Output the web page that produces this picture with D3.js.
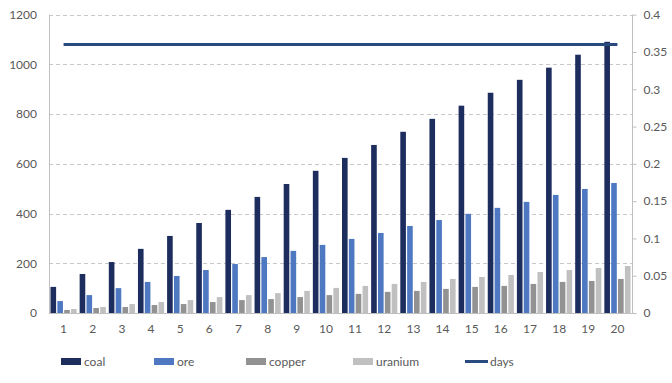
<!DOCTYPE html>
<html><head><meta charset="utf-8">
<script src="https://cdn.jsdelivr.net/npm/d3@7/dist/d3.min.js"></script>
<style>
html,body{margin:0;padding:0;background:#fff;}
svg{display:block;font-family:Lato,"Open Sans",sans-serif;}
</style></head>
<body>
<script>
const categories = ["1","2","3","4","5","6","7","8","9","10","11","12","13","14","15","16","17","18","19","20"];
const coal    = [105,157,205,258,310,362,415,467,519,572,624,676,729,781,834,886,938,987,1039,1091];
const ore     = [48,72,100,125,149,173,197,225,250,274,298,322,350,374,399,423,447,475,499,523];
const copper  = [12,20,24,32,36,44,52,56,64,72,77,85,89,97,105,109,117,125,129,137];
const uranium = [16,24,36,44,52,64,72,80,89,101,109,117,125,137,145,153,165,173,181,189];
const days    = [0.36,0.36,0.36,0.36,0.36,0.36,0.36,0.36,0.36,0.36,0.36,0.36,0.36,0.36,0.36,0.36,0.36,0.36,0.36,0.36];
const leftTicks = [0,200,400,600,800,1000,1200];
const rightTicks = [0,0.05,0.1,0.15,0.2,0.25,0.3,0.35,0.4];

const seriesNames = ["coal","ore","copper","uranium"];
const seriesData = [coal, ore, copper, uranium];
const colors = {coal:"#1c2d5e", ore:"#4e78c1", copper:"#929292", uranium:"#c0c0c0", days:"#284a7e"};

const W = 672, H = 383;
const L = 49, R = 632, T = 14.7, B = 313;
const svg = d3.select("body").append("svg").attr("width", W).attr("height", H);

const x0 = d3.scaleBand().domain(categories).range([L, R]).padding(0);
const x1 = d3.scaleBand().domain(seriesNames).range([1.5, x0.bandwidth() - 1.5]).paddingInner(0.18);
const y = d3.scaleLinear().domain([0, 1200]).range([B, T]);
const y2 = d3.scaleLinear().domain([0, 0.4]).range([B, T]);

const txt = "#595959";

// gridlines
svg.append("g").selectAll("line").data(leftTicks.filter(d => d > 0)).join("line")
  .attr("x1", L).attr("x2", R).attr("y1", d => Math.round(y(d)) + 0.5).attr("y2", d => Math.round(y(d)) + 0.5)
  .attr("stroke", "#c8c8c8").attr("stroke-width", 1).attr("stroke-dasharray", "4,3");

// bars
const g = svg.append("g");
categories.forEach((c, i) => {
  seriesNames.forEach((s, j) => {
    const v = seriesData[j][i];
    g.append("rect")
      .attr("x", x0(c) + x1(s)).attr("width", x1.bandwidth())
      .attr("y", y(v)).attr("height", y(0) - y(v))
      .attr("fill", colors[s]);
  });
});

// axes lines
svg.append("line").attr("x1", L + 0.5).attr("x2", L + 0.5).attr("y1", T).attr("y2", B).attr("stroke", "#bfbfbf");
svg.append("line").attr("x1", R + 0.5).attr("x2", R + 0.5).attr("y1", T).attr("y2", B).attr("stroke", "#bfbfbf");
svg.append("line").attr("x1", L).attr("x2", R + 1).attr("y1", B + 0.5).attr("y2", B + 0.5).attr("stroke", "#bfbfbf");

// left axis labels
const yAxis = d3.axisLeft(y).tickValues(leftTicks).tickSize(0).tickPadding(12).tickFormat(d3.format("d"));
const ya = svg.append("g").attr("transform", `translate(${L},0)`).call(yAxis);
ya.select(".domain").remove();
ya.selectAll("text").attr("fill", txt).style("font-size", "12px").style("font-family", "Lato,'Open Sans',sans-serif");

// right axis
const yAxis2 = d3.axisRight(y2).tickValues(rightTicks).tickSize(4).tickPadding(7).tickFormat(d => String(d));
const yb = svg.append("g").attr("transform", `translate(${R + 0.5},0)`).call(yAxis2);
yb.select(".domain").remove();
yb.selectAll("line").attr("stroke", "#bfbfbf");
yb.selectAll("text").attr("fill", txt).style("font-size", "12px").style("font-family", "Lato,'Open Sans',sans-serif");

// x axis labels
const xAxis = d3.axisBottom(x0).tickSize(0).tickPadding(11);
const xa = svg.append("g").attr("transform", `translate(0,${B})`).call(xAxis);
xa.select(".domain").remove();
xa.selectAll("text").attr("fill", txt).style("font-size", "12px").style("font-family", "Lato,'Open Sans',sans-serif");

// days line
const line = d3.line().x((d, i) => x0(categories[i]) + x0.bandwidth() / 2).y(d => y2(d));
svg.append("path").datum(days).attr("d", line).attr("fill", "none")
  .attr("stroke", colors.days).attr("stroke-width", 3);

// legend
const legendItems = [
  {name: "coal", x: 61},
  {name: "ore", x: 154},
  {name: "copper", x: 246},
  {name: "uranium", x: 353},
  {name: "days", x: 465, line: true}
];
const ly = 361.5;
const lg = svg.append("g");
legendItems.forEach(it => {
  if (it.line) {
    lg.append("line").attr("x1", it.x).attr("x2", it.x + 23).attr("y1", ly).attr("y2", ly)
      .attr("stroke", colors.days).attr("stroke-width", 3);
  } else {
    lg.append("rect").attr("x", it.x).attr("y", ly - 3.5).attr("width", 20).attr("height", 7).attr("fill", colors[it.name]);
  }
  lg.append("text").attr("x", it.x + (it.line ? 25 : 23)).attr("y", ly).attr("dy", "0.35em")
    .attr("fill", txt).style("font-size", "12px").text(it.name);
});
</script>
</body></html>
